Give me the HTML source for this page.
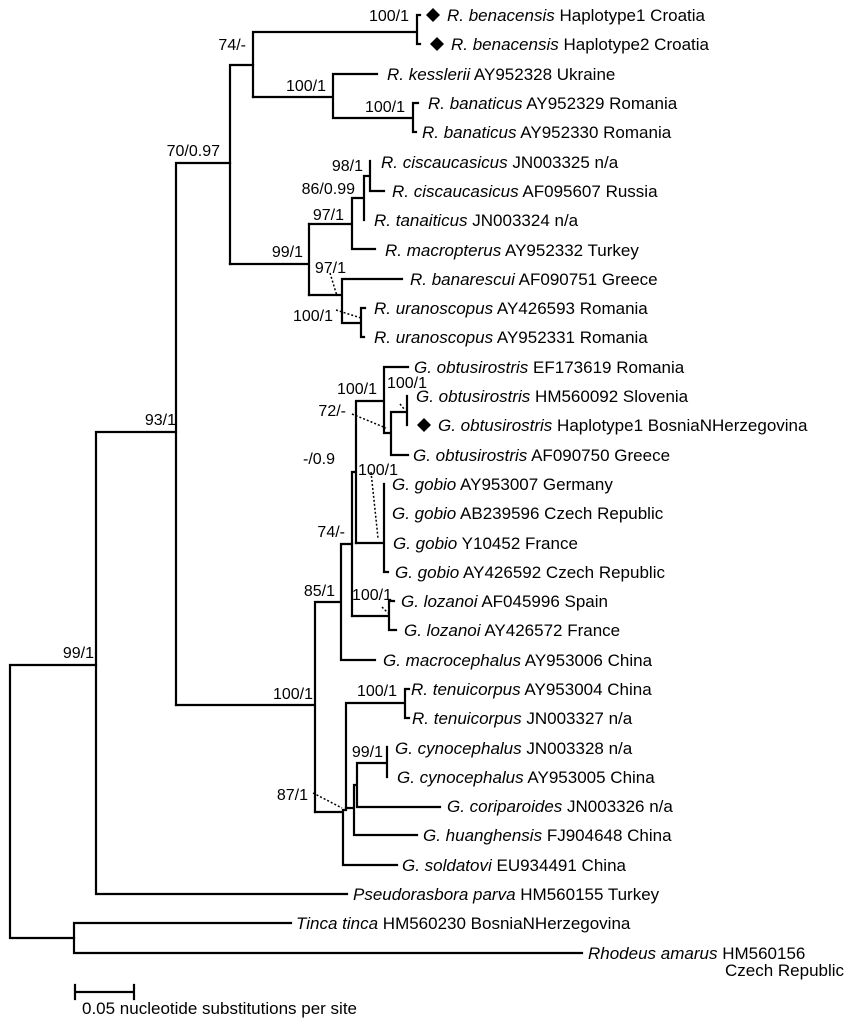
<!DOCTYPE html>
<html><head><meta charset="utf-8"><style>
html,body{margin:0;padding:0;background:#fff;}
svg{display:block;}
text{font-family:"Liberation Sans",Arial,sans-serif;font-size:17px;fill:#000;}
.s text{font-size:16px;}
.i{font-style:italic;}
</style></head><body>
<svg width="850" height="1024" viewBox="0 0 850 1024" xmlns="http://www.w3.org/2000/svg">
<g stroke="#000" stroke-width="2.2" fill="none" stroke-linecap="square">
<path d="M10 665V938M10 665H96M10 938H74"/>
<path d="M74 923V953M74 923H291M74 953H582"/>
<path d="M96 432V894M96 894H347M96 432H176"/>
<path d="M176 163V705M176 163H230"/>
<path d="M230 65V264M230 65H253"/>
<path d="M253 32V97M253 32H417M417 15V44M417 15H420M417 44H420"/>
<path d="M253 97H333M333 74V118M333 74H377M333 118H413M413 103V132M413 103H418M413 132H416"/>
<path d="M230 264H309M309 224V295"/>
<path d="M309 224H352M352 198V249M352 249H375M352 198H364M364 176V220M364 176H370M370 161V191M370 191H384"/>
<path d="M309 295H342M342 279V323M342 279H402M342 323H361M361 308V337M361 308H365M361 337H364"/>
<path d="M176 705H315M315 602V812M315 602H341M341 544V660M341 660H375M341 544H352"/>
<path d="M352 472V616M352 472H356M356 401V543M356 401H384M384 367V433M384 367H408M384 433H391M391 412V455M391 455H408M391 412H407M407 396V425"/>
<path d="M356 543H384M384 484V572M384 572H388"/>
<path d="M352 616H389M389 601V630M389 601H394M389 630H396"/>
<path d="M315 812H343M343 812V865M343 865H397"/>
<path d="M343 810H346M346 703V810M346 703H405M405 689V718M405 689H409M405 718H409"/>
<path d="M346 808H354M354 785V835M354 835H417M354 785H357M357 763V807M357 807H440M357 763H387M387 747V777"/>
<path d="M75 992H134M75 985V999M134 985V999"/>
</g>
<g stroke="#000" stroke-width="1.5" stroke-dasharray="2,2" fill="none">
<path d="M330 273L337 296"/>
<path d="M336 310L361 318"/>
<path d="M352 414L386 428"/>
<path d="M400 404L405 410"/>
<path d="M371 472L378 538"/>
<path d="M382 607L388 613"/>
<path d="M313 793L342 808"/>
</g>
<g fill="#000">
<path d="M433 8L440 15L433 22L426 15Z"/>
<path d="M437 37L444 44L437 51L430 44Z"/>
<path d="M424 418L431 425L424 432L417 425Z"/>
</g>
<g class="s" text-anchor="end">
<text x="409" y="21">100/1</text>
<text x="246" y="50">74/-</text>
<text x="326" y="91">100/1</text>
<text x="405" y="112">100/1</text>
<text x="220" y="156">70/0.97</text>
<text x="363" y="171">98/1</text>
<text x="355" y="194">86/0.99</text>
<text x="344" y="220">97/1</text>
<text x="303" y="257">99/1</text>
<text x="346" y="273">97/1</text>
<text x="333" y="321">100/1</text>
<text x="377" y="394">100/1</text>
<text x="427" y="388">100/1</text>
<text x="346" y="416">72/-</text>
<text x="335" y="464">-/0.9</text>
<text x="398" y="475">100/1</text>
<text x="345" y="537">74/-</text>
<text x="335" y="596">85/1</text>
<text x="392" y="600">100/1</text>
<text x="176" y="425">93/1</text>
<text x="313" y="699">100/1</text>
<text x="397" y="696">100/1</text>
<text x="383" y="757">99/1</text>
<text x="308" y="800">87/1</text>
<text x="94" y="658">99/1</text>
</g>
<text x="447" y="21"><tspan class="i">R. benacensis</tspan> Haplotype1 Croatia</text>
<text x="451" y="50"><tspan class="i">R. benacensis</tspan> Haplotype2 Croatia</text>
<text x="387" y="80"><tspan class="i">R. kesslerii</tspan> AY952328 Ukraine</text>
<text x="428" y="109"><tspan class="i">R. banaticus</tspan> AY952329 Romania</text>
<text x="422" y="138"><tspan class="i">R. banaticus</tspan> AY952330 Romania</text>
<text x="381" y="168"><tspan class="i">R. ciscaucasicus</tspan> JN003325 n/a</text>
<text x="392" y="197"><tspan class="i">R. ciscaucasicus</tspan> AF095607 Russia</text>
<text x="374" y="226"><tspan class="i">R. tanaiticus</tspan> JN003324 n/a</text>
<text x="385" y="256"><tspan class="i">R. macropterus</tspan> AY952332 Turkey</text>
<text x="410" y="285"><tspan class="i">R. banarescui</tspan> AF090751 Greece</text>
<text x="374" y="314"><tspan class="i">R. uranoscopus</tspan> AY426593 Romania</text>
<text x="374" y="343"><tspan class="i">R. uranoscopus</tspan> AY952331 Romania</text>
<text x="414" y="373"><tspan class="i">G. obtusirostris</tspan> EF173619 Romania</text>
<text x="416" y="402"><tspan class="i">G. obtusirostris</tspan> HM560092 Slovenia</text>
<text x="438" y="431"><tspan class="i">G. obtusirostris</tspan> Haplotype1 BosniaNHerzegovina</text>
<text x="413" y="461"><tspan class="i">G. obtusirostris</tspan> AF090750 Greece</text>
<text x="392" y="490"><tspan class="i">G. gobio</tspan> AY953007 Germany</text>
<text x="392" y="519"><tspan class="i">G. gobio</tspan> AB239596 Czech Republic</text>
<text x="393" y="549"><tspan class="i">G. gobio</tspan> Y10452 France</text>
<text x="395" y="578"><tspan class="i">G. gobio</tspan> AY426592 Czech Republic</text>
<text x="401" y="607"><tspan class="i">G. lozanoi</tspan> AF045996 Spain</text>
<text x="404" y="636"><tspan class="i">G. lozanoi</tspan> AY426572 France</text>
<text x="383" y="666"><tspan class="i">G. macrocephalus</tspan> AY953006 China</text>
<text x="411" y="695"><tspan class="i">R. tenuicorpus</tspan> AY953004 China</text>
<text x="412" y="724"><tspan class="i">R. tenuicorpus</tspan> JN003327 n/a</text>
<text x="395" y="754"><tspan class="i">G. cynocephalus</tspan> JN003328 n/a</text>
<text x="397" y="783"><tspan class="i">G. cynocephalus</tspan> AY953005 China</text>
<text x="447" y="812"><tspan class="i">G. coriparoides</tspan> JN003326 n/a</text>
<text x="423" y="841"><tspan class="i">G. huanghensis</tspan> FJ904648 China</text>
<text x="402" y="871"><tspan class="i">G. soldatovi</tspan> EU934491 China</text>
<text x="353" y="900"><tspan class="i">Pseudorasbora parva</tspan> HM560155 Turkey</text>
<text x="296" y="929"><tspan class="i">Tinca tinca</tspan> HM560230 BosniaNHerzegovina</text>
<text x="588" y="959"><tspan class="i">Rhodeus amarus</tspan> HM560156</text>
<text x="725" y="976">Czech Republic</text>
<text x="82" y="1014">0.05 nucleotide substitutions per site</text>
</svg>
</body></html>
